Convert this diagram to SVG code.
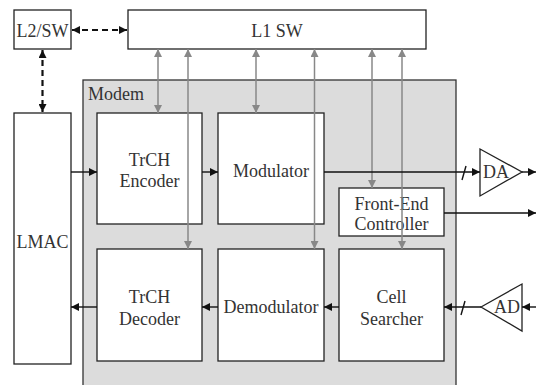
<svg xmlns="http://www.w3.org/2000/svg" width="536" height="385" viewBox="0 0 536 385">
<defs>
<style>
.box{fill:#fff;stroke:#222;stroke-width:1.3}
.t{font-family:'Liberation Serif','Times New Roman','DejaVu Serif',serif;font-size:18px;fill:#333;text-anchor:middle}
.g{stroke:#888;stroke-width:1.5;fill:none}
.k{stroke:#111;stroke-width:1.4;fill:none}
.d{stroke:#111;stroke-width:2.2;stroke-dasharray:6,4;fill:none}
</style>
<marker id="ga" viewBox="0 0 10 10" refX="10" refY="5" markerWidth="9" markerHeight="8" markerUnits="userSpaceOnUse" orient="auto-start-reverse"><path d="M0,0 L10,5 L0,10 z" fill="#888"/></marker>
<marker id="ka" viewBox="0 0 10 10" refX="10" refY="5" markerWidth="8" markerHeight="8" markerUnits="userSpaceOnUse" orient="auto-start-reverse"><path d="M0,0 L10,5 L0,10 z" fill="#111"/></marker>
</defs>
<rect width="536" height="385" fill="#fff"/>
<g id="modem"><rect x="83" y="80" width="373" height="320" fill="#dcdcdc" stroke="#333" stroke-width="1.3"/><text x="88" y="100" class="t" font-family="Liberation Serif" style="text-anchor:start">Modem</text></g>
<g id="l2sw"><rect class="box" x="14" y="10" width="57" height="39"/><text class="t" x="42.5" y="37">L2/SW</text></g>
<g id="l1sw"><rect class="box" x="128" y="10" width="298" height="39"/><text class="t" x="277" y="37">L1 SW</text></g>
<g id="lmac"><rect class="box" x="14" y="113" width="57" height="251"/><text class="t" x="42.5" y="248">LMAC</text></g>
<g id="enc"><rect class="box" x="97" y="113" width="105" height="111"/><text class="t" x="149.5" y="166">TrCH</text><text class="t" x="149.5" y="187">Encoder</text></g>
<g id="mod"><rect class="box" x="218" y="113" width="106" height="111"/><text class="t" x="271" y="177">Modulator</text></g>
<g id="fec"><rect class="box" x="339" y="188" width="105" height="48"/><text class="t" x="391.5" y="210">Front-End</text><text class="t" x="391.5" y="230">Controller</text></g>
<g id="dec"><rect class="box" x="97" y="249" width="105" height="112"/><text class="t" x="149.5" y="303">TrCH</text><text class="t" x="149.5" y="325">Decoder</text></g>
<g id="demod"><rect class="box" x="218" y="249" width="106" height="112"/><text class="t" x="271" y="313">Demodulator</text></g>
<g id="cell"><rect class="box" x="339" y="249" width="105" height="112"/><text class="t" x="391.5" y="303">Cell</text><text class="t" x="391.5" y="325">Searcher</text></g>
<g id="da"><polygon points="480,149 522,172 480,196" fill="#fff" stroke="#222" stroke-width="1.3"/><text class="t" x="496" y="178">DA</text></g>
<g id="ad"><polygon points="481,307 522,284 522,331" fill="#fff" stroke="#222" stroke-width="1.3"/><text class="t" x="507" y="313">AD</text></g>
<g id="connectors">
<line class="d" x1="72" y1="30" x2="127" y2="30" marker-start="url(#ka)" marker-end="url(#ka)"/>
<line class="d" x1="42.5" y1="50" x2="42.5" y2="112" marker-start="url(#ka)" marker-end="url(#ka)"/>
<line class="g" x1="158" y1="49" x2="158" y2="113" marker-start="url(#ga)" marker-end="url(#ga)"/>
<line class="g" x1="188" y1="49" x2="188" y2="249" marker-start="url(#ga)" marker-end="url(#ga)"/>
<line class="g" x1="256" y1="49" x2="256" y2="113" marker-start="url(#ga)" marker-end="url(#ga)"/>
<line class="g" x1="314.5" y1="49" x2="314.5" y2="249" marker-start="url(#ga)" marker-end="url(#ga)"/>
<line class="g" x1="372" y1="49" x2="372" y2="188" marker-start="url(#ga)" marker-end="url(#ga)"/>
<line class="g" x1="402" y1="49" x2="402" y2="249" marker-start="url(#ga)" marker-end="url(#ga)"/>
<line class="k" x1="71" y1="172" x2="97" y2="172" marker-end="url(#ka)"/>
<line class="k" x1="202" y1="172" x2="218" y2="172" marker-end="url(#ka)"/>
<line class="k" x1="324" y1="172" x2="480" y2="172" marker-end="url(#ka)"/>
<line class="k" x1="462" y1="180" x2="466" y2="166"/>
<line class="k" x1="522" y1="172" x2="536" y2="172" marker-end="url(#ka)"/>
<line class="k" x1="444" y1="213" x2="536" y2="213" marker-end="url(#ka)"/>
<line class="k" x1="536" y1="307" x2="522" y2="307" marker-end="url(#ka)"/>
<line class="k" x1="481" y1="307" x2="444" y2="307" marker-end="url(#ka)"/>
<line class="k" x1="461" y1="315" x2="465" y2="301"/>
<line class="k" x1="339" y1="307" x2="324" y2="307" marker-end="url(#ka)"/>
<line class="k" x1="218" y1="307" x2="202" y2="307" marker-end="url(#ka)"/>
<line class="k" x1="97" y1="307" x2="71" y2="307" marker-end="url(#ka)"/>
</g>
</svg>
